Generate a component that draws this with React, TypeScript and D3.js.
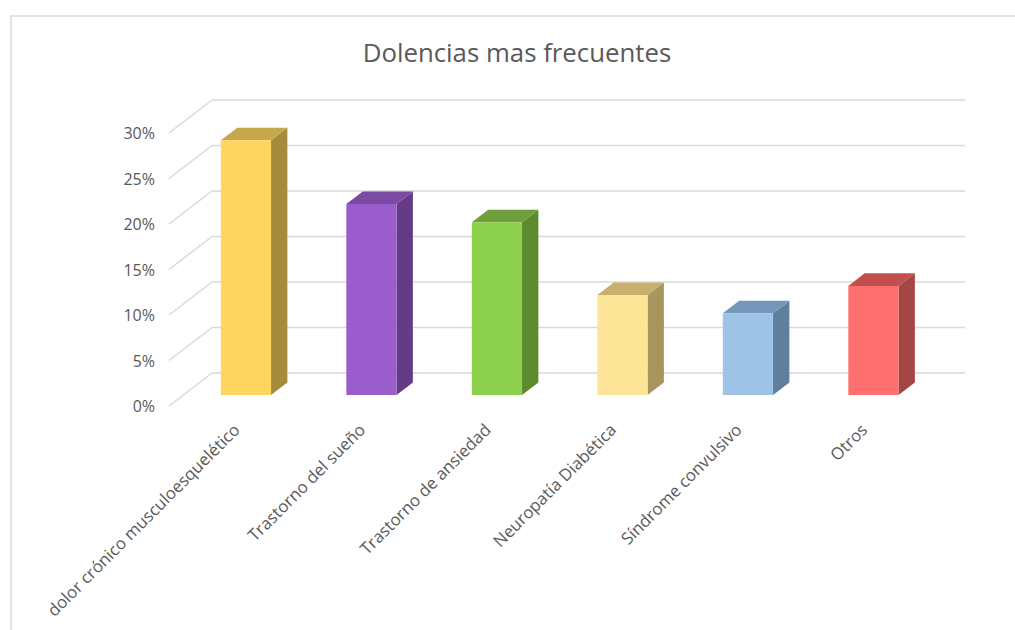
import React from "react";
import * as d3 from "d3";

const title = "Dolencias mas frecuentes";
const categories = [
  "dolor crónico musculoesquelético",
  "Trastorno del sueño",
  "Trastorno de ansiedad",
  "Neuropatía Diabética",
  "Síndrome convulsivo",
  "Otros",
];
const values = [0.28, 0.21, 0.19, 0.11, 0.09, 0.12];
const yTicks = [0, 0.05, 0.1, 0.15, 0.2, 0.25, 0.3];

const frontColors = ["#FDD55F", "#9B5DCB", "#8DD04E", "#FDE597", "#9DC3E6", "#FF6F6F"];
const sideColors = ["#A68B3C", "#653B86", "#5C8B2E", "#A8955D", "#5F7F9D", "#A54646"];
const topColors = ["#C7A74B", "#7B4AA2", "#6E9F3B", "#C8AF6D", "#7497B9", "#C24E4E"];

const W = 1015;
const H = 630;
const FONT = "'Open Sans', sans-serif";
const TEXT = "#595959";
const GRID = "#d9d9d9";

// plot geometry (back wall)
const backX0 = 212;
const backX1 = 965;
const depthDx = -43; // back -> front
const depthDy = 33;
const barFrontF = 0.67;
const barBackF = 0.29;

export default function App() {
  const yBack = d3.scaleLinear().domain([0, 0.3]).range([373, 100]);
  const xBand = d3
    .scaleBand<string>()
    .domain(categories)
    .range([backX0, backX1])
    .paddingInner(0.6)
    .paddingOuter(0.3);

  const fx = depthDx * barFrontF;
  const fy = depthDy * barFrontF;
  const bx = depthDx * barBackF;
  const by = depthDy * barBackF;
  const sdx = bx - fx;
  const sdy = by - fy;
  const bw = xBand.bandwidth();

  return (
    <svg
      width={W}
      height={H}
      style={{ position: "absolute", left: 0, top: 0, display: "block", background: "#fff" }}
    >
      <rect x={11} y={16} width={W} height={H} fill="#fff" stroke={GRID} strokeWidth={1.5} />
      <text x={517} y={62} textAnchor="middle" fontFamily={FONT} fontSize={25.8} fill={TEXT}>
        {title}
      </text>
      {yTicks.map((t) => {
        const y = yBack(t);
        return (
          <g key={t}>
            <line x1={backX0} x2={backX1} y1={y} y2={y} stroke={GRID} strokeWidth={1.5} />
            <line
              x1={backX0}
              y1={y}
              x2={backX0 + depthDx}
              y2={y + depthDy}
              stroke={GRID}
              strokeWidth={1.5}
            />
            <text
              x={155}
              y={y + depthDy + 2}
              textAnchor="end"
              dominantBaseline="middle"
              fontFamily={FONT}
              fontSize={16}
              fill={TEXT}
            >
              {d3.format(".0%")(t)}
            </text>
          </g>
        );
      })}
      {categories.map((c, i) => {
        const x0 = (xBand(c) as number) + fx;
        const x1 = x0 + bw;
        const y0 = yBack(0) + fy;
        const yt = yBack(values[i]) + fy;
        const front = `M${x0},${y0}L${x1},${y0}L${x1},${yt}L${x0},${yt}Z`;
        const side = `M${x1},${y0}L${x1 + sdx},${y0 + sdy}L${x1 + sdx},${yt + sdy}L${x1},${yt}Z`;
        const top = `M${x0},${yt}L${x1},${yt}L${x1 + sdx},${yt + sdy}L${x0 + sdx},${yt + sdy}Z`;
        return (
          <g key={c}>
            <path d={side} fill={sideColors[i]} />
            <path d={top} fill={topColors[i]} />
            <path d={front} fill={frontColors[i]} />
          </g>
        );
      })}
      {categories.map((c) => {
        const cx = (xBand(c) as number) + fx + bw / 2;
        const ax = cx - 5;
        const ay = 431;
        return (
          <text
            key={c}
            x={ax}
            y={ay}
            transform={`rotate(-45 ${ax} ${ay})`}
            textAnchor="end"
            fontFamily={FONT}
            fontSize={16.8}
            fill={TEXT}
          >
            {c}
          </text>
        );
      })}
    </svg>
  );
}
